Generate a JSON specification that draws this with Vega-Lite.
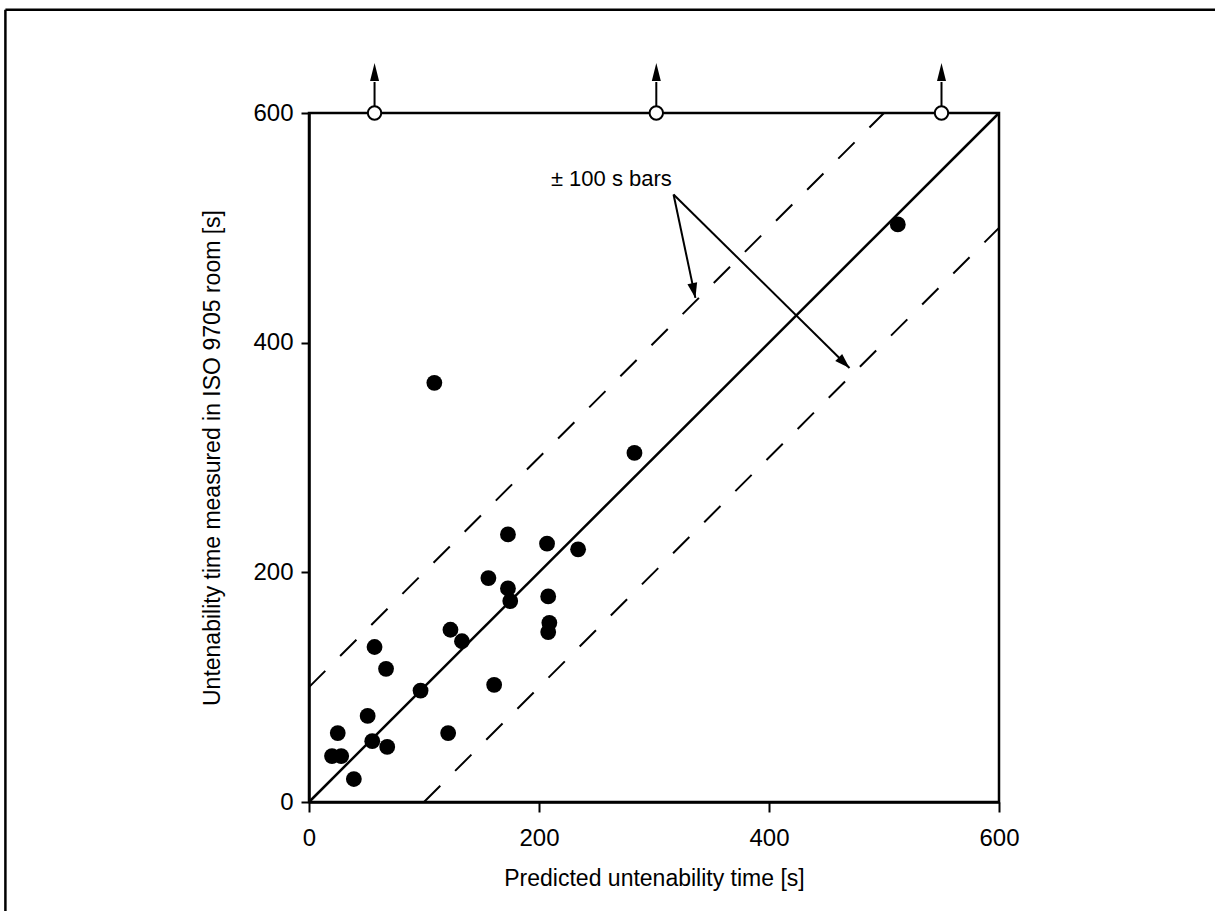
{
  "$schema": "https://vega.github.io/schema/vega-lite/v6.json",
  "width": 690,
  "height": 689,
  "autosize": {"type": "none"},
  "padding": {"left": 309, "top": 113, "right": 216, "bottom": 109},
  "background": "white",
  "config": {
    "font": "Liberation Sans",
    "view": {"stroke": "black", "strokeWidth": 2.5},
    "axis": {
      "domainColor": "black", "domainWidth": 2.5,
      "tickColor": "black", "tickWidth": 2,
      "labelColor": "black", "titleColor": "black",
      "labelFont": "Liberation Sans", "titleFont": "Liberation Sans",
      "labelFontSize": 24, "titleFontSize": 23, "titleFontWeight": "normal",
      "labelFlush": false, "grid": false
    }
  },
  "datasets": {
    "points": [
      {"x": 109, "y": 365}, {"x": 283, "y": 304}, {"x": 512, "y": 503},
      {"x": 173, "y": 233}, {"x": 207, "y": 225}, {"x": 234, "y": 220},
      {"x": 156, "y": 195}, {"x": 173, "y": 186}, {"x": 175, "y": 175},
      {"x": 208, "y": 179}, {"x": 209, "y": 156}, {"x": 208, "y": 148},
      {"x": 123, "y": 150}, {"x": 133, "y": 140}, {"x": 57, "y": 135},
      {"x": 67, "y": 116}, {"x": 97, "y": 97}, {"x": 161, "y": 102},
      {"x": 51, "y": 75}, {"x": 25, "y": 60}, {"x": 55, "y": 53},
      {"x": 68, "y": 48}, {"x": 121, "y": 60}, {"x": 20, "y": 40},
      {"x": 28, "y": 40}, {"x": 39, "y": 20}
    ],
    "lines": [
      {"x": 0, "y": 0, "kind": "fit"}, {"x": 600, "y": 600, "kind": "fit"},
      {"x": 0, "y": 100, "kind": "upper"}, {"x": 500, "y": 600, "kind": "upper"},
      {"x": 100, "y": 0, "kind": "lower"}, {"x": 600, "y": 500, "kind": "lower"}
    ],
    "offscale": [
      {"x": 57, "y": 600, "y2": 627, "tip": 643.5},
      {"x": 302, "y": 600, "y2": 627, "tip": 643.5},
      {"x": 550, "y": 600, "y2": 627, "tip": 643.5}
    ],
    "pointers": [
      {"name": "upper", "x": 317, "y": 529, "x2": 336, "y2": 439},
      {"name": "lower", "x": 317, "y": 529, "x2": 470, "y2": 378}
    ],
    "note": [{"x": 315.5, "y": 542.5, "label": "± 100 s bars"}],
    "border": [
      {"x": -264, "y": 690, "x2": 788, "y2": 690},
      {"x": -264, "y": 690, "x2": -264, "y2": -95}
    ]
  },
  "encoding": {
    "x": {"field": "x", "type": "quantitative",
      "scale": {"domain": [0, 600], "nice": false, "zero": false},
      "axis": {"values": [0, 200, 400, 600], "tickSize": 10, "labelPadding": 14, "titlePadding": 17,
        "title": "Predicted untenability time [s]"}},
    "y": {"field": "y", "type": "quantitative",
      "scale": {"domain": [0, 600], "nice": false, "zero": false},
      "axis": {"values": [0, 200, 400, 600], "tickSize": 8, "labelPadding": 8, "titlePadding": 28,
        "title": "Untenability time measured in ISO 9705 room [s]"}}
  },
  "layer": [
    {
      "data": {"name": "border"},
      "mark": {"type": "rule", "color": "black", "strokeWidth": 2.5},
      "encoding": {"x2": {"field": "x2"}, "y2": {"field": "y2"}}
    },
    {
      "data": {"name": "lines"},
      "transform": [{"filter": "datum.kind === 'fit'"}],
      "mark": {"type": "line", "color": "black", "strokeWidth": 2.5},
      "encoding": {"detail": {"field": "kind"}}
    },
    {
      "data": {"name": "lines"},
      "transform": [{"filter": "datum.kind !== 'fit'"}],
      "mark": {"type": "line", "color": "black", "strokeWidth": 2, "strokeDash": [23, 21]},
      "encoding": {"detail": {"field": "kind"}}
    },
    {
      "data": {"name": "points"},
      "mark": {"type": "point", "shape": "circle", "filled": true, "color": "black", "opacity": 1, "size": 250}
    },
    {
      "data": {"name": "pointers"},
      "mark": {"type": "rule", "color": "black", "strokeWidth": 2},
      "encoding": {"x2": {"field": "x2"}, "y2": {"field": "y2"}}
    },
    {
      "data": {"name": "pointers"},
      "transform": [{"filter": "datum.name === 'upper'"}],
      "mark": {"type": "point", "shape": "M0,0 L0.33,1 L-0.33,1 Z", "filled": true, "color": "black", "opacity": 1, "size": 900, "angle": 168},
      "encoding": {"x": {"field": "x2", "type": "quantitative"}, "y": {"field": "y2", "type": "quantitative"}}
    },
    {
      "data": {"name": "pointers"},
      "transform": [{"filter": "datum.name === 'lower'"}],
      "mark": {"type": "point", "shape": "M0,0 L0.33,1 L-0.33,1 Z", "filled": true, "color": "black", "opacity": 1, "size": 900, "angle": 134},
      "encoding": {"x": {"field": "x2", "type": "quantitative"}, "y": {"field": "y2", "type": "quantitative"}}
    },
    {
      "data": {"name": "note"},
      "mark": {"type": "text", "align": "right", "baseline": "middle", "fontSize": 22, "font": "Liberation Sans", "color": "black"},
      "encoding": {"text": {"field": "label"}}
    },
    {
      "data": {"name": "offscale"},
      "mark": {"type": "rule", "color": "black", "strokeWidth": 2},
      "encoding": {"y2": {"field": "y2"}}
    },
    {
      "data": {"name": "offscale"},
      "mark": {"type": "point", "shape": "M0,0 L0.25,1 L-0.25,1 Z", "filled": true, "color": "black", "opacity": 1, "size": 1296},
      "encoding": {"y": {"field": "tip", "type": "quantitative"}}
    },
    {
      "data": {"name": "offscale"},
      "mark": {"type": "point", "shape": "circle", "filled": false, "fill": "white", "fillOpacity": 1, "stroke": "black", "strokeWidth": 2, "opacity": 1, "size": 180}
    }
  ]
}
